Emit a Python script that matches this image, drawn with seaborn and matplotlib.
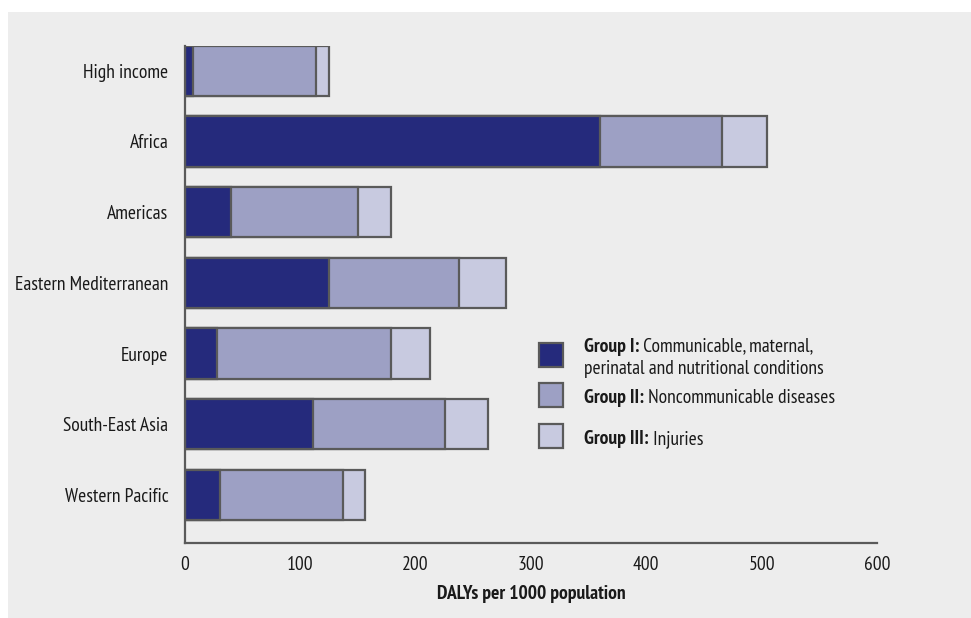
"""
Stacked horizontal bars: DALYs per 1000 population by cause group and region.

Output:
    out.png
"""

import matplotlib.pyplot as plt
import pandas as pd
import seaborn as sns
from matplotlib import font_manager
from matplotlib.patches import Rectangle

regions = [
    "High income",
    "Africa",
    "Americas",
    "Eastern Mediterranean",
    "Europe",
    "South-East Asia",
    "Western Pacific",
]
group1 = [7, 360, 40, 125, 28, 111, 30]
group2 = [107, 106, 110, 113, 151, 114, 107]
group3 = [11, 39, 29, 40, 33, 38, 19]
x_ticks = [0, 100, 200, 300, 400, 500, 600]

legend_bold = ["Group I:", "Group II:", "Group III:"]
legend_rest = [
    ["Communicable, maternal,", "perinatal and nutritional conditions"],
    ["Noncommunicable diseases"],
    ["Injuries"],
]

colors = ["#252a7c", "#9da0c4", "#c8cae0"]
edge = "#5a5a5a"
panel = "#ededed"
ink = "#1a1a1a"
fs = 14

W, H = 971, 618

names = {f.name for f in font_manager.fontManager.ttflist}
family = next(
    (f for f in ["PT Sans Narrow", "Fira Sans Condensed", "Roboto Condensed"] if f in names),
    "Liberation Sans",
)

sns.set_theme(style="white")
plt.rcParams["font.family"] = [family, "DejaVu Sans"]

df = pd.DataFrame({"region": regions, "g1": group1, "g2": group2, "g3": group3})
df["s12"] = df["g1"] + df["g2"]
df["total"] = df["s12"] + df["g3"]

fig = plt.figure(figsize=(W / 100, H / 100), dpi=100, facecolor="white")
fig.patches.append(
    Rectangle((8 / W, 0), 1, 1 - 12 / H, transform=fig.transFigure,
              facecolor=panel, edgecolor="none", zorder=-10)
)
ax = fig.add_axes([185 / W, 1 - 543 / H, 692 / W, 497 / H])
ax.set_facecolor(panel)

# overlapping cumulative bars give the stacked look
for col, color in zip(["total", "s12", "g1"], colors[::-1]):
    sns.barplot(
        data=df, x=col, y="region", order=regions, orient="h",
        color=color, saturation=1, width=0.71,
        edgecolor=edge, linewidth=1.6, ax=ax,
    )

ax.set_xlim(0, 600)
ax.set_ylim(6.68, -0.35)
ax.set_xticks(x_ticks)
ax.set_xticklabels([str(t) for t in x_ticks])
ax.tick_params(axis="both", length=0, labelsize=fs, colors=ink)
ax.tick_params(axis="y", pad=12)
ax.tick_params(axis="x", pad=9)
ax.set_ylabel("")
ax.set_xlabel("DALYs per 1000 population", fontsize=fs, fontweight="bold",
              color=ink, labelpad=8)
for side in ["top", "right"]:
    ax.spines[side].set_visible(False)
for side in ["left", "bottom"]:
    ax.spines[side].set_color(edge)
    ax.spines[side].set_linewidth(1.6)

# legend drawn by hand so the group name can be bold inside the label
box_y = [355, 395, 436]
for color, bold, rest, yc in zip(colors, legend_bold, legend_rest, box_y):
    fig.patches.append(
        Rectangle((539 / W, 1 - (yc + 12) / H), 24 / W, 24 / H, transform=fig.transFigure,
                  facecolor=color, edgecolor=edge, linewidth=1.6)
    )
    top = yc + 3 - 11.5 * (len(rest) - 1)
    lab = fig.text(584 / W, 1 - top / H, bold, fontsize=fs, fontweight="bold",
                   color=ink, va="center", ha="left")
    ax.annotate(" " + rest[0], xy=(1, 0), xycoords=lab, va="bottom", ha="left",
                fontsize=fs, color=ink, annotation_clip=False)
    for k, line in enumerate(rest[1:], start=1):
        fig.text(584 / W, 1 - (top + 23 * k) / H, line, fontsize=fs,
                 color=ink, va="center", ha="left")

fig.savefig("out.png", dpi=100, facecolor="white")
